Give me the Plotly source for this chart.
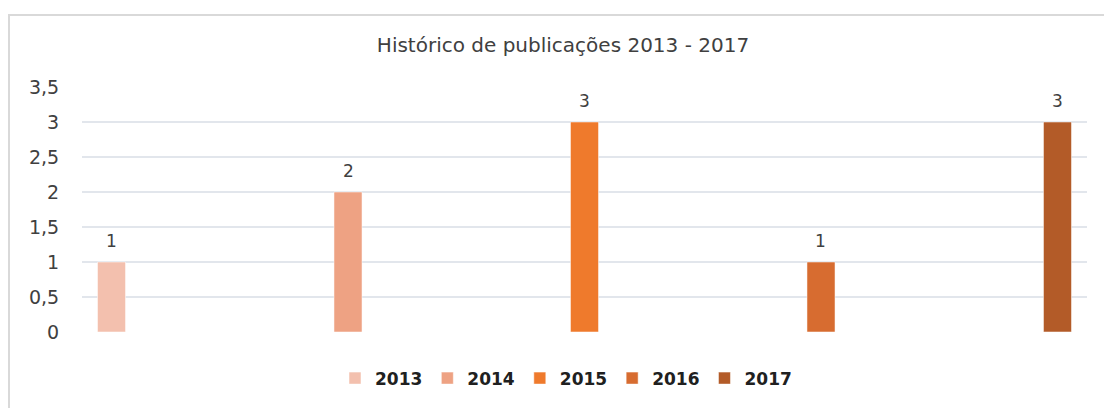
import plotly.graph_objects as go

categories = ["2013", "2014", "2015", "2016", "2017"]
series_names = ["2013", "2014", "2015", "2016", "2017"]
values = [1, 2, 3, 1, 3]
colors = ["#f3c0ae", "#eea283", "#ef7a2c", "#d76c30", "#b35b28"]
title_text = "Histórico de publicações 2013 - 2017"
tick_vals = [0, 0.5, 1, 1.5, 2, 2.5, 3, 3.5]

FONT = "DejaVu Sans"
BARGAP = 0.117
GROUPGAP = 0.21
PLOT_W = 1104 - 82 - 17

fig = go.Figure()
for i, name in enumerate(series_names):
    yv = [values[i] if j == i else None for j in range(len(categories))]
    fig.add_trace(go.Bar(
        x=categories, y=yv, name=name,
        marker=dict(color=colors[i], line=dict(color="rgba(255,255,255,0.5)", width=1)),
        cliponaxis=False,
    ))

# data labels placed above each bar (x given as category index)
slot_px = PLOT_W / len(categories) * (1 - BARGAP) / len(series_names)
for i, name in enumerate(series_names):
    fig.add_annotation(
        x=i, y=values[i], xref="x", yref="y",
        text=str(values[i]), showarrow=False,
        xshift=(i - (len(series_names) - 1) / 2) * slot_px, yshift=21,
        font=dict(family=FONT, size=17, color="#404040"),
    )

fig.update_layout(
    width=1104, height=408,
    margin=dict(l=82, r=17, t=87, b=73),
    paper_bgcolor="white", plot_bgcolor="white",
    separators=",.",
    barmode="group", bargap=BARGAP, bargroupgap=GROUPGAP,
    title=dict(text=title_text, x=563/1104, xanchor="center", y=1 - 45/408, yanchor="middle",
               font=dict(family=FONT, size=20, color="#404040")),
    legend=dict(orientation="h", x=(566-82)/1005, xanchor="center", y=-0.19, yanchor="middle",
                font=dict(family=FONT, size=17, color="#202020", weight="bold"),
                itemwidth=30, traceorder="normal"),
    font=dict(family=FONT),
    showlegend=True,
)
fig.update_xaxes(type="category", categoryorder="array", categoryarray=categories,
                 range=[-0.5, len(categories) - 0.5], autorange=False,
                 showticklabels=False, showgrid=False, showline=False, zeroline=False)
fig.update_yaxes(range=[0, 3.5], tickvals=tick_vals, showgrid=True, gridcolor="#e2e6ec", gridwidth=1.5,
                 zeroline=False, showline=False, ticks="outside", ticklen=18, tickcolor="rgba(0,0,0,0)",
                 tickfont=dict(family=FONT, size=19, color="#404040"))
fig.add_shape(type="rect", xref="paper", yref="paper", x0=(9-82)/1005, x1=1.2, y0=-0.5, y1=(335-14)/248,
              line=dict(color="#d9d9d9", width=2), fillcolor="rgba(0,0,0,0)", layer="below")
fig.write_html("out.html")
